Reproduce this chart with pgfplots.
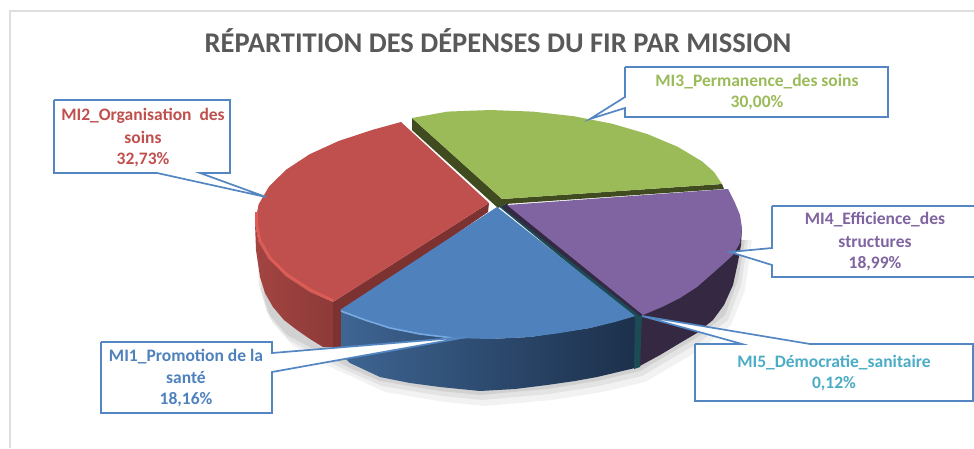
\documentclass[border=0pt]{standalone}
\usepackage{pgfplots}
\pgfplotsset{compat=1.18}
\usepackage{fontspec}
\setmainfont{Carlito}
\definecolor{cTitle}{RGB}{89,89,89}
\definecolor{cFrame}{RGB}{222,222,222}
\definecolor{cBlue}{RGB}{79,129,189}
\definecolor{cRed}{RGB}{192,80,77}
\definecolor{cGreen}{RGB}{155,187,89}
\definecolor{cPurple}{RGB}{128,100,162}
\definecolor{cTeal}{RGB}{75,172,198}
\definecolor{cBox}{RGB}{84,134,194}
\newcommand{\lab}[4]{\node[text=#1,font=\fontsize{17.5}{20}\selectfont\bfseries,anchor=center,inner sep=0pt] at (axis cs:#2,#3) {#4};}
\begin{document}
\begin{tikzpicture}
\begin{axis}[
  scale only axis, width=974pt, height=448pt,
  xmin=0, xmax=974, ymin=0, ymax=448, y dir=reverse,
  hide axis, clip=true]
% background and frame
\addplot[fill=white,draw=none] coordinates {(0,0)(974,0)(974,448)(0,448)} \closedcycle;
\addplot[cFrame,line width=2.4pt] coordinates {(10,448)(10,11)(974,11)};
% soft shadow
\addplot[fill=black,fill opacity=0.05,draw=none] coordinates {(262,240)(264,296)(272,322)(292,345)(328,366)(355,378)(385,392)(445,402)(485,406)(552,400)(602,392)(645,382)(703,348)(731,325)(745,290)(752,240)};
\addplot[fill=black,fill opacity=0.06,draw=none] coordinates {(259,240)(261,290)(269,317)(289,340)(325,360)(352,373)(382,386)(442,396)(482,400)(549,394)(599,386)(642,376)(700,342)(728,320)(741,285)(748,240)};
\addplot[fill=black,fill opacity=0.08,draw=none] coordinates {(257,240)(259,285)(267,312)(287,335)(323,354)(350,368)(380,381)(440,391)(480,395)(547,389)(597,381)(640,371)(698,337)(725,315)(738,280)(745,240)};
% red side
\addplot[draw=none,left color=cRed!85!black,right color=cRed!72!black] coordinates {(255,223)(256,250)(260,277)(265,293)(273,307)(284,320)(297,330)(310,339)(323,347)(342,347)(342,310)(333,302)(309.7,291.8)(286.4,276.5)(269.1,259.6)(258.6,241.6)};
% red inner cut
\addplot[fill={rgb,255:red,125;green,50;blue,50},draw=none] coordinates {(489,203)(488,212)(342,313)(342,347)(333,347)(333,302)};
% purple side
\addplot[fill={rgb,255:red,52;green,40;blue,66},draw=none] coordinates {(742,228)(741,245)(738,262)(733,285)(724,305)(713,320)(697,333)(680,343)(660,355)(638,367)(638,316)(660,305)(700,280)(730,250)};
% blue side
\addplot[draw=none,left color={rgb,255:red,62;green,101;blue,147},right color={rgb,255:red,28;green,48;blue,75}] coordinates {(341,312)(341,347)(345,358)(350,363)(380,377)(410,383)(440,387)(480,391)(515,389)(547,385)(575,381)(597,377)(635,368)(635,316)(590,328)(530,337)(490,339)(420,334)(365,320)};
% teal cut
\addplot[fill={rgb,255:red,28;green,75;blue,85},draw=none] coordinates {(497,205)(507,204)(642,315)(640,367)(634,369)(635,318)};
% dark purple edge
\addplot[fill={rgb,255:red,52;green,40;blue,66},draw=none] coordinates {(507,204)(644,315)(640,316)(502,207)};
% dark green cut
\addplot[fill={rgb,255:red,64;green,76;blue,32},draw=none] coordinates {(412,118)(502,199)(722,184)(724,189)(505,204)(498,208)(412,130)};
% green top
\addplot[fill=cGreen,draw=none] coordinates {(412,118)(447.5,111.6)(490,110)(532.5,111.6)(573.8,116.2)(612.5,123.8)(647.5,134.1)(677.7,146.8)(702.2,161.5)(714,172)(722,184)(502,199)};
% red top
\addplot[fill=cRed,draw=none] coordinates {(401,122)(372,130)(338.6,141)(309.7,154.2)(286.4,169.5)(269.1,186.4)(258.6,204.4)(255,223)(258.6,241.6)(269.1,259.6)(286.4,276.5)(309.7,291.8)(333,302)(489,203)};
\addplot[color={rgb,255:red,222;green,92;blue,86},line width=2.6pt] coordinates {(256.5,212)(256.5,223)(260,240.5)(270.5,258.5)(287.5,275)(310.5,290)(333,300.5)};
% purple top
\addplot[fill=cPurple,draw=none] coordinates {(507,205)(728,189)(735,203)(740,215)(742,228)(740,243)(733,255)(722,265)(713,273)(697,287)(680,298)(662,307)(643,315)};
% blue top
\addplot[fill=cBlue,draw=none] coordinates {(497,207)(635,316)(615,322)(590,328)(560,333)(530,337)(490,339)(453,338)(420,334)(390,328)(365,320)(340,310)};
\addplot[color={rgb,255:red,120;green,170;blue,225},line width=1.6pt] coordinates {(341,311)(365,320)(390,328)(420,334)(453,338)};
% callouts
\addplot[fill=white,draw=cBox,line width=1.7pt] coordinates {(54,100)(230,100)(230,173)(200,173)(266,197)(157,173)(54,173)(54,100)};
\addplot[fill=white,draw=cBox,line width=1.7pt] coordinates {(625,67)(888,67)(888,117)(625,117)(625,108)(590,119)(625,97)(625,67)};
\addplot[fill=white,draw=cBox,line width=1.7pt] coordinates {(772,206)(980,206)(980,277)(772,277)(772,265)(730,252)(772,248)(772,206)};
\addplot[fill=white,draw=cBox,line width=1.7pt] coordinates {(695,344)(742,344)(642,316)(810,344)(973,344)(973,401)(695,401)(695,344)};
\addplot[fill=white,draw=cBox,line width=1.7pt] coordinates {(101,342)(272,342)(272,353)(467,337)(272,372)(272,413)(101,413)(101,342)};
% text
\node[text=cTitle,font=\fontsize{28.5}{32}\selectfont\bfseries,anchor=center,inner sep=0pt] at (axis cs:498,41) {RÉPARTITION DES DÉPENSES DU FIR PAR MISSION};
\lab{cRed}{143}{116}{MI2\_Organisation\ \ des}
\lab{cRed}{143}{137}{soins}
\lab{cRed}{143}{160}{32,73\%}
\lab{cGreen}{757}{82}{MI3\_Permanence\_des soins}
\lab{cGreen}{757}{103}{30,00\%}
\lab{cPurple}{875}{220}{MI4\_Efficience\_des}
\lab{cPurple}{875}{242}{structures}
\lab{cPurple}{875}{264}{18,99\%}
\lab{cTeal}{834}{363}{MI5\_Démocratie\_sanitaire}
\lab{cTeal}{834}{384}{0,12\%}
\lab{cBlue}{186}{357}{MI1\_Promotion de la}
\lab{cBlue}{186}{378}{santé}
\lab{cBlue}{186}{400}{18,16\%}
\end{axis}
\end{tikzpicture}
\end{document}
